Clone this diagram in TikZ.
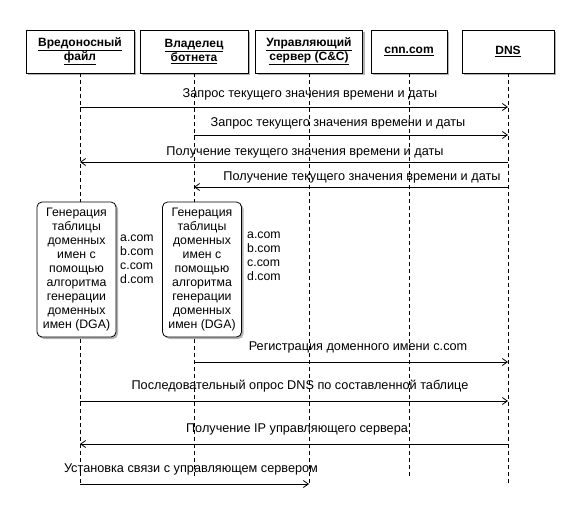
\documentclass[tikz,border=0pt]{standalone}
\usepackage{fontspec}
\setmainfont{Liberation Sans}
\usetikzlibrary{arrows.meta,shadows}

\begin{document}
\begin{tikzpicture}[x=1pt,y=-1pt,
  actor/.style={rectangle, draw, fill=white, line width=0.8pt, minimum height=43pt, align=center, font=\fontsize{12pt}{14pt}\selectfont\bfseries, drop shadow={shadow xshift=2pt, shadow yshift=-2pt, fill=black!60, opacity=0.5}},
  proc/.style={rectangle, rounded corners=5pt, draw, fill=white, line width=0.8pt, minimum width=79pt, minimum height=135pt, align=center, inner sep=0pt, font=\fontsize{12.3pt}{14pt}\selectfont, drop shadow={shadow xshift=2pt, shadow yshift=-2pt, fill=black!60, opacity=0.5}},
  life/.style={line width=0.8pt, dash pattern=on 4pt off 3pt},
  msg/.style={line width=0.8pt, -{Straight Barb[length=5pt,width=7pt]}},
  lbl/.style={inner sep=0pt, font=\fontsize{12.7pt}{14pt}\selectfont},
  list/.style={inner sep=0pt, align=left, anchor=west, font=\fontsize{12.3pt}{14pt}\selectfont}]
\useasboundingbox (0,0) rectangle (586,514);

% participants
\node[actor, minimum width=108pt] (mal) at (80,51.5) {\underline{Вредоносный}\\\underline{файл}};
\node[actor, minimum width=108pt] (owner) at (194,51.5) {\underline{Владелец}\\\underline{ботнета}};
\node[actor, minimum width=107pt] (cc) at (309,51.5) {\underline{Управляющий}\\\underline{сервер (C\&C)}};
\node[actor, minimum width=76pt] (cnn) at (409,51.5) {\underline{cnn.com}};
\node[actor, minimum width=92pt] (dns) at (508,51.5) {\underline{DNS}};

% lifelines
\coordinate (malend) at (80,484);
\coordinate (ownerend) at (194,478);
\coordinate (ccend) at (309,484);
\coordinate (cnnend) at (409,478);
\coordinate (dnsend) at (508,484);
\draw[life] (mal.south) -- (malend);
\draw[life] (owner.south) -- (ownerend);
\draw[life] (cc.south) -- (ccend);
\draw[life] (cnn.south) -- (cnnend);
\draw[life] (dns.south) -- (dnsend);

% time requests
\draw[msg] (mal |- 0,107) -- (dns |- 0,107);
\node[lbl] (req1) at (310,94) {Запрос текущего значения времени и даты};
\draw[msg] (owner |- 0,135) -- (dns |- 0,135);
\node[lbl] (req2) at (338,123) {Запрос текущего значения времени и даты};
\draw[msg] (dns |- 0,162) -- (mal |- 0,162);
\node[lbl] (resp1) at (305,152) {Получение текущего значения времени и даты};
\draw[msg] (dns |- 0,187) -- (owner |- 0,187);
\node[lbl] (resp2) at (362,177) {Получение текущего значения времени и даты};

% domain generation
\node[proc] (dga1) at (76.5,269.5) {Генерация\\таблицы\\доменных\\имен с\\помощью\\алгоритма\\генерации\\доменных\\имен (DGA)};
\node[proc] (dga2) at (202,269.5) {Генерация\\таблицы\\доменных\\имен с\\помощью\\алгоритма\\генерации\\доменных\\имен (DGA)};
\node[list] (list1) at (120,259) {a.com\\b.com\\c.com\\d.com};
\node[list] (list2) at (247,256) {a.com\\b.com\\c.com\\d.com};

% registration and lookup
\draw[msg] (owner |- 0,362) -- (dns |- 0,362);
\node[lbl] (reg) at (358,347) {Регистрация доменного имени c.com};
\draw[msg] (mal |- 0,401) -- (dns |- 0,401);
\node[lbl] (poll) at (300,386) {Последовательный опрос DNS по составленной таблице};
\draw[msg] (dns |- 0,444) -- (mal |- 0,444);
\node[lbl] (ip) at (297,429) {Получение IP управляющего сервера};
\draw[msg] (mal |- 0,484) -- (cc |- 0,484);
\node[lbl] (conn) at (191,469) {Установка связи с управляющем сервером};
\end{tikzpicture}
\end{document}
